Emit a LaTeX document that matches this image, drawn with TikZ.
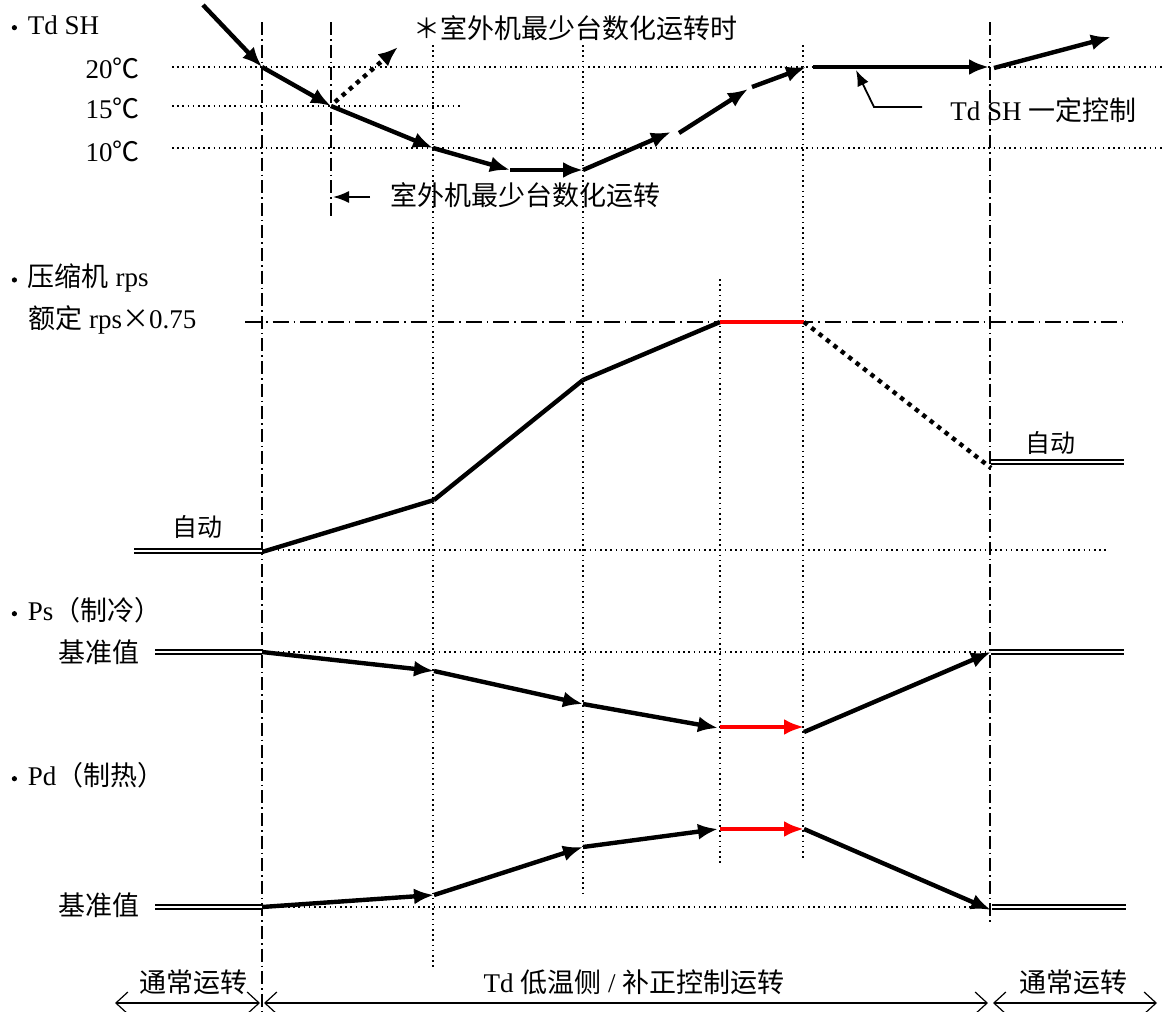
\documentclass[tikz,border=0pt]{standalone}
\usepackage{fontspec}
\setmainfont{Liberation Serif}
\newfontfamily\cjk{Noto Sans CJK SC}
\newcommand{\zh}[1]{{\cjk #1}}
\newcommand{\bul}{\hspace{0.2em}\raisebox{0.32ex}{\tikz\fill (0,0) circle (1.3pt);}\hspace{0.4em}}
\usepackage{tikz}
\usetikzlibrary{arrows.meta,positioning}
\tikzset{
  guide/.style={line width=0.8pt, dash pattern=on 0.8pt off 1.8pt},
  phase/.style={line width=1pt, dash pattern=on 6.5pt off 2pt on 0.8pt off 2pt},
  rated/.style={line width=1pt, dash pattern=on 8pt off 2.5pt on 0.8pt off 2.5pt},
  trend/.style={line width=2.2pt, ->},
  hold/.style={line width=2.2pt, red},
  drop/.style={line width=2.2pt, dash pattern=on 2.2pt off 2.5pt},
  base/.style={double, double distance=1.2pt, line width=1.1pt},
  note/.style={line width=0.9pt, -{Latex[length=8pt,width=6pt]}},
  span/.style={line width=0.6pt, {Straight Barb[length=6pt,width=11pt]}-{Straight Barb[length=6pt,width=11pt]}},
  lbl/.style={inner sep=0pt, font=\fontsize{13.5pt}{16pt}\selectfont},
  small/.style={inner sep=0pt, font=\fontsize{12.5pt}{15pt}\selectfont}
}

\begin{document}
\begin{tikzpicture}[x=0.5pt, y=-0.5pt, >={Latex[length=10pt,width=8pt]}]
\useasboundingbox (0,0) rectangle (1163,1012);

\draw[phase] (262,22) -- (262,1012);
\draw[phase] (331,22) -- (331,218);
\draw[phase] (990,22) -- (990,925);
\draw[guide] (433,45) -- (433,967);
\draw[guide] (583,45) -- (583,893);
\draw[guide] (720,279) -- (720,863);
\draw[guide] (803,45) -- (803,858);

\draw[guide] (172,67) -- (1163,67);
\draw[guide] (172,106) -- (460,106);
\draw[guide] (172,148) -- (1163,148);
\draw[guide] (262,550) -- (1108,550);
\draw[guide] (262,652) -- (990,652);
\draw[guide] (262,907) -- (990,907);
\draw[rated] (245,322) -- (1127,322);

\node[lbl, anchor=west] (tdsh) at (6,25) {\bul Td SH};
\node[lbl, anchor=east] (t20) at (140,68) {20\zh{℃}};
\node[lbl, anchor=east] (t15) at (140,108) {15\zh{℃}};
\node[lbl, anchor=east] (t10) at (140,151) {10\zh{℃}};
\node[lbl, anchor=west] (minrun) at (413,28) {\zh{＊室外机最少台数化运转时}};
\node[lbl, anchor=west] (minunit) at (390,195) {\zh{室外机最少台数化运转}};
\node[lbl, anchor=west] (keep) at (950,110) {Td SH \zh{一定控制}};

\node[lbl, anchor=west] (comp) at (6,278) {\bul\zh{压缩机} rps};
\node[lbl, anchor=west] (rate) at (28,320) {\zh{额定} rps\zh{×}0.75};
\node[small] (autoa) at (197,527) {\zh{自动}};
\node[small] (autob) at (1050,443) {\zh{自动}};

\node[lbl, anchor=west] (ps) at (6,610) {\bul Ps\zh{（制冷）}};
\node[lbl, anchor=east] (psref) at (140,652) {\zh{基准值}};
\node[lbl, anchor=west] (pd) at (6,775) {\bul Pd\zh{（制热）}};
\node[lbl, anchor=east] (pdref) at (140,905) {\zh{基准值}};

\node[lbl] (run1) at (193,982) {\zh{通常运转}};
\node[lbl] (low) at (634,982) {Td \zh{低温侧} / \zh{补正控制运转}};
\node[lbl] (run2) at (1073,982) {\zh{通常运转}};

\coordinate (t0) at (203,5);
\coordinate (t1) at (262,67);
\coordinate (t2) at (331,106);
\coordinate (t3) at (433,148);
\coordinate (t4) at (510,170);
\coordinate (t5) at (583,170);
\coordinate (t6) at (671,132);
\coordinate (t6s) at (679,133);
\coordinate (t7) at (748,89);
\coordinate (t7s) at (752,87);
\coordinate (t8) at (806,67);
\coordinate (t8s) at (813,67);
\coordinate (t9) at (989,67);
\coordinate (t9s) at (994,68);
\coordinate (t10) at (1111,37);
\draw[trend] (t0) -- (t1);
\draw[trend] (t1) -- (t2);
\draw[trend] (t2) -- (t3);
\draw[trend] (t3) -- (t4);
\draw[trend] (t4) -- (t5);
\draw[trend] (t5) -- (t6);
\draw[trend] (t6s) -- (t7);
\draw[trend] (t7s) -- (t8);
\draw[trend] (t8s) -- (t9);
\draw[trend] (t9s) -- (t10);

\coordinate (up0) at (335,102);
\coordinate (up1) at (398,47);
\draw[drop, ->] (up0) -- (up1);
\coordinate (m0) at (370,197);
\coordinate (m1) at (333,197);
\draw[note] (m0) -- (m1);
\coordinate (k0) at (922,107);
\coordinate (k1) at (874,107);
\coordinate (k2) at (856,70);
\draw[note] (k0) -- (k1) -- (k2);

\coordinate (r0) at (262,552);
\coordinate (r1) at (434,500);
\coordinate (r2) at (583,380);
\coordinate (r3) at (720,322);
\coordinate (r4) at (804,322);
\coordinate (r5) at (991,468);
\draw[line width=2.2pt] (r0) -- (r1);
\draw[line width=2.2pt] (r1) -- (r2);
\draw[line width=2.2pt] (r2) -- (r3);
\draw[hold] (r3) -- (r4);
\draw[drop] (r4) -- (r5);
\coordinate (ra) at (134,551);
\coordinate (rz) at (262,551);
\coordinate (rb) at (991,462);
\coordinate (rc) at (1124,462);
\draw[base] (ra) -- (rz);
\draw[base] (rb) -- (rc);

\coordinate (p0) at (262,652);
\coordinate (p1) at (434,671);
\coordinate (p2) at (583,704);
\coordinate (p3) at (718,728);
\coordinate (p3s) at (720,727);
\coordinate (p4) at (804,727);
\coordinate (p4s) at (804,732);
\coordinate (p5) at (991,652);
\draw[trend] (p0) -- (p1);
\draw[trend] (p1) -- (p2);
\draw[trend] (p2) -- (p3);
\draw[hold, ->] (p3s) -- (p4);
\draw[trend] (p4s) -- (p5);
\coordinate (pa) at (155,652);
\coordinate (pb) at (1124,652);
\draw[base] (pa) -- (p0);
\draw[base] (p5) -- (pb);

\coordinate (d0) at (262,907);
\coordinate (d1) at (434,895);
\coordinate (d2) at (583,847);
\coordinate (d3) at (718,829);
\coordinate (d3s) at (720,829);
\coordinate (d4) at (804,829);
\coordinate (d5) at (991,910);
\draw[trend] (d0) -- (d1);
\draw[trend] (d1) -- (d2);
\draw[trend] (d2) -- (d3);
\draw[hold, ->] (d3s) -- (d4);
\draw[trend] (d4) -- (d5);
\coordinate (da) at (155,907);
\coordinate (db) at (992,907);
\coordinate (dc) at (1126,907);
\draw[base] (da) -- (d0);
\draw[base] (db) -- (dc);

\coordinate (s0) at (115,1003);
\coordinate (s1) at (260,1003);
\coordinate (s2) at (264,1003);
\coordinate (s3) at (988,1003);
\coordinate (s4) at (993,1003);
\coordinate (s5) at (1157,1003);
\draw[span] (s0) -- (s1);
\draw[span] (s2) -- (s3);
\draw[span] (s4) -- (s5);

\end{tikzpicture}
\end{document}
